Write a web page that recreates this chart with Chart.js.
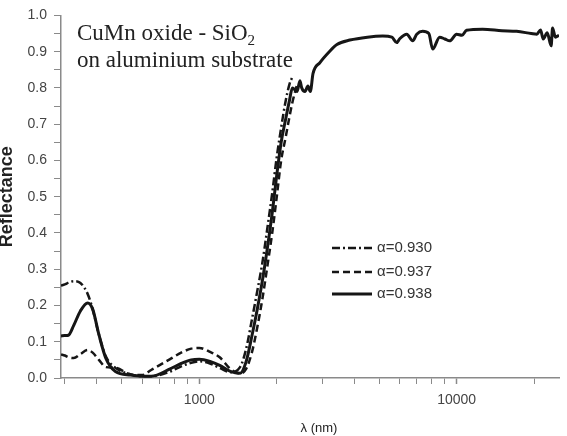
<!DOCTYPE html>
<html>
<head>
<meta charset="utf-8">
<script src="https://cdn.jsdelivr.net/npm/chart.js@4.4.1/dist/chart.umd.min.js"></script>
<style>
  html, body { margin: 0; padding: 0; background: #fff; }
  #wrap { width: 567px; height: 436px; }
</style>
</head>
<body>
<div id="wrap"><canvas id="chart"></canvas></div>
<script>
// wavelengths (nm) shared by all three samples, UV-vis-NIR part
const wavelength = [290, 300, 310, 325, 345, 368, 385, 407, 433, 472, 540, 600, 650, 770, 850, 930, 1000, 1100, 1200, 1320,
    1440, 1520, 1600, 1680, 1760, 1840, 1920, 2000, 2080, 2160, 2240, 2300, 2400];

const r930 = [0.255, 0.258, 0.263, 0.267, 0.262, 0.232, 0.190, 0.120, 0.060, 0.028, 0.010, 0.005, 0.005, 0.018, 0.032, 0.042, 0.046, 0.040, 0.028, 0.016,
    0.030, 0.080, 0.160, 0.240, 0.320, 0.415, 0.510, 0.610, 0.690, 0.760, 0.810, 0.830, null];

const r937 = [0.065, 0.062, 0.057, 0.055, 0.066, 0.077, 0.070, 0.050, 0.030, 0.028, 0.010, 0.008, 0.022, 0.052, 0.070, 0.081, 0.083, 0.072, 0.057, 0.025,
    0.012, 0.025, 0.070, 0.140, 0.220, 0.310, 0.400, 0.500, 0.600, 0.660, 0.720, 0.760, 0.810];

const r938 = [0.116, 0.117, 0.118, 0.145, 0.185, 0.207, 0.190, 0.120, 0.055, 0.018, 0.008, 0.005, 0.005, 0.025, 0.040, 0.050, 0.052, 0.046, 0.035, 0.018,
    0.013, 0.045, 0.115, 0.190, 0.270, 0.360, 0.455, 0.560, 0.650, 0.710, 0.765, 0.800, 0.790];

// IR part, only the alpha=0.938 curve continues
const wavelengthIr = [2460, 2500, 2575, 2643, 2700, 2767, 2943, 3200, 3427, 3847, 4500, 5165, 5600, 5850, 6000, 6400, 6750, 7000, 7380, 7800,
    8070, 8590, 9000, 9400, 10000, 10500, 10930, 12620, 15000, 17100, 19500, 20500, 21200, 21700, 22500, 23300, 23600, 24200, 25000];
const r938Ir = [0.820, 0.800, 0.790, 0.805, 0.790, 0.840, 0.870, 0.900, 0.920, 0.932, 0.940, 0.943, 0.940, 0.925, 0.935, 0.948, 0.930, 0.948, 0.956, 0.950,
    0.907, 0.940, 0.935, 0.930, 0.948, 0.945, 0.959, 0.962, 0.958, 0.956, 0.950, 0.948, 0.960, 0.935, 0.952, 0.916, 0.965, 0.940, 0.945];

const seriesLabels = ['\u03b1=0.930', '\u03b1=0.937', '\u03b1=0.938'];
const xLabelsShown = [1000, 10000];

const toPoints = (xs, ys) => xs.map((x, i) => ({ x: x, y: ys[i] }));

const ink = '#161616';

const datasets = [
    { label: seriesLabels[0], data: toPoints(wavelength, r930), borderDash: [8, 3, 2, 3], borderWidth: 2.5 },
    { label: seriesLabels[1], data: toPoints(wavelength, r937), borderDash: [7, 4], borderWidth: 2.5 },
    { label: seriesLabels[2], data: toPoints(wavelength, r938).concat(toPoints(wavelengthIr, r938Ir)), borderDash: [], borderWidth: 3 }
].map(d => Object.assign(d, {
    borderColor: ink,
    pointRadius: 0,
    fill: false,
    spanGaps: false,
    cubicInterpolationMode: 'monotone'
}));

// text inside the plot: sample name, legend, x title
const overlay = {
    id: 'overlay',
    afterDraw(chart) {
        const { ctx, chartArea } = chart;
        ctx.save();
        // sample name
        ctx.fillStyle = '#222';
        ctx.textBaseline = 'alphabetic';
        ctx.textAlign = 'left';
        ctx.font = '23px "Liberation Serif"';
        const tx = chartArea.left + 16;
        const first = 'CuMn oxide - SiO';
        ctx.fillText(first, tx, chartArea.top + 25);
        const w = ctx.measureText(first).width;
        ctx.font = '15px "Liberation Serif"';
        ctx.fillText('2', tx + w, chartArea.top + 30);
        ctx.font = '23px "Liberation Serif"';
        ctx.fillText('on aluminium substrate', tx, chartArea.top + 52);

        // legend
        const lx = chartArea.left + 271;
        const rows = [248, 272, 294];
        chart.data.datasets.forEach((ds, i) => {
            const y = rows[i];
            ctx.strokeStyle = ds.borderColor;
            ctx.lineWidth = ds.borderWidth;
            ctx.setLineDash(ds.borderDash);
            ctx.beginPath();
            ctx.moveTo(lx, y);
            ctx.lineTo(lx + 40, y);
            ctx.stroke();
            ctx.setLineDash([]);
            ctx.fillStyle = '#333';
            ctx.font = '15px "Liberation Sans"';
            ctx.textBaseline = 'middle';
            ctx.fillText(ds.label, lx + 45, y);
        });

        // x axis title
        ctx.fillStyle = '#222';
        ctx.font = '13px "Liberation Sans"';
        ctx.textAlign = 'center';
        ctx.textBaseline = 'middle';
        ctx.fillText('\u03bb (nm)', 319, 428);
        ctx.restore();
    }
};

const isNiceLog = v => {
    const m = v / Math.pow(10, Math.floor(Math.log10(v) + 1e-9));
    return Math.abs(m - Math.round(m)) < 1e-6;
};

new Chart(document.getElementById('chart'), {
    type: 'line',
    data: { datasets: datasets },
    options: {
        responsive: true,
        maintainAspectRatio: false,
        animation: false,
        layout: { padding: { top: 11, right: 7, left: 0, bottom: 0 } },
        plugins: { legend: { display: false }, tooltip: { enabled: false } },
        scales: {
            x: {
                type: 'logarithmic',
                min: 290,
                max: 25000,
                afterFit: s => { s.height = 58; },
                border: { display: true, color: '#8a8a8a', width: 1.5 },
                grid: {
                    drawOnChartArea: false,
                    tickLength: 6,
                    tickColor: c => (c.tick && isNiceLog(c.tick.value) && c.tick.value < 25000 && c.tick.value > 290) ? '#8a8a8a' : 'rgba(0,0,0,0)',
                    tickWidth: c => (c.tick && xLabelsShown.includes(c.tick.value)) ? 1.5 : 1
                },
                ticks: {
                    autoSkip: false,
                    maxRotation: 0,
                    padding: 8,
                    color: '#444',
                    font: { family: 'Liberation Sans', size: 14 },
                    callback: v => xLabelsShown.includes(v) ? String(v) : ''
                }
            },
            y: {
                min: 0,
                max: 1,
                afterFit: s => { s.width = 61; },
                border: { display: true, color: '#8a8a8a', width: 1.5 },
                grid: {
                    drawOnChartArea: false,
                    tickLength: 7,
                    tickColor: '#8a8a8a',
                    tickWidth: 1
                },
                ticks: {
                    stepSize: 0.05,
                    autoSkip: false,
                    padding: 7,
                    color: '#444',
                    font: { family: 'Liberation Sans', size: 14 },
                    callback: v => Math.round(v * 100) % 10 === 0 ? v.toFixed(1) : ''
                },
                title: {
                    display: true,
                    text: 'Reflectance',
                    color: '#222',
                    padding: 0,
                    font: { family: 'Liberation Sans', size: 18, weight: 'bold', lineHeight: 0.75 }
                }
            }
        }
    },
    plugins: [overlay]
});
</script>
</body>
</html>
